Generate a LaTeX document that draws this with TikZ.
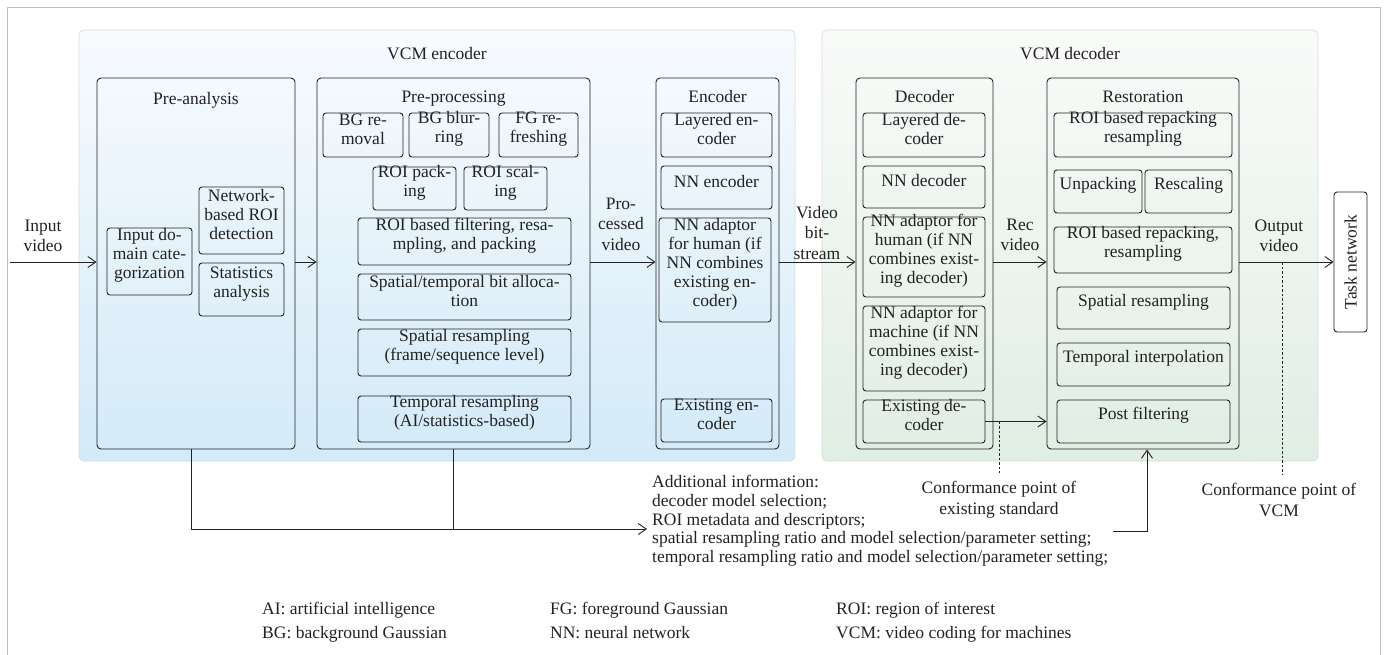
\documentclass[tikz,border=0pt]{standalone}
\usepackage{fontspec}
\setmainfont{Liberation Serif}
\usetikzlibrary{arrows.meta,fit,calc}

\definecolor{encTop}{HTML}{F8FBFE}
\definecolor{encBot}{HTML}{D3EAF8}
\definecolor{decTop}{HTML}{F9FBF9}
\definecolor{decBot}{HTML}{E0EEE4}
\definecolor{ink}{HTML}{222222}
\definecolor{framegray}{HTML}{BDBDBD}
\definecolor{panelline}{HTML}{DADADA}

\begin{document}
\begin{tikzpicture}[x=1pt,y=-1pt,
  font=\fontsize{17.5}{19}\selectfont,
  every node/.style={text=ink},
  box/.style={draw=ink, line width=0.9pt, rounded corners=3pt, inner sep=0pt, align=center},
  group/.style={draw=ink, line width=0.9pt, rounded corners=4pt, inner sep=0pt},
  panel/.style={draw=panelline, line width=0.7pt, rounded corners=5pt, inner sep=0pt},
  lbl/.style={inner sep=0pt, align=center, font=\fontsize{17.5}{20.5}\selectfont},
  arr/.style={draw=ink, line width=0.9pt, -{Straight Barb[length=8pt,width=11pt]}},
  link/.style={draw=ink, line width=0.9pt},
  cpline/.style={draw=ink, line width=0.8pt, dash pattern=on 2.5pt off 2pt},
]
\useasboundingbox (0,0) rectangle (1388,654);

% outer frame (open at the bottom edge)
\draw[framegray, line width=1pt] (7,670) -- (7,7) -- (1380,7) -- (1380,670);

% ---------------- VCM encoder ----------------
\node[panel, top color=encTop, bottom color=encBot, fit={(79,30) (795,461)}] (vcmenc) {};
\node[anchor=base] (vcmencT) at (437,59) {VCM encoder};

% Pre-analysis
\node[group, fit={(97,78) (295,449)}] (preana) {};
\node[anchor=base] (preanaT) at (196,104) {Pre-analysis};
\node[box, fit={(107,228) (192,295)}] (idc) {Input do-\\main cate-\\gorization};
\node[box, fit={(199,187) (284,254)}] (nroi) {Network-\\based ROI\\detection};
\node[box, fit={(199,263) (284,316)}] (stat) {Statistics\\analysis};

% Pre-processing
\node[group, fit={(317,78) (590,449)}] (preproc) {};
\node[anchor=base] (preprocT) at (453.5,102) {Pre-processing};
\node[box, fit={(323,113) (403,157)}] (bgrem) {BG re-\\moval};
\node[box, fit={(409,113) (489,157)}] (bgblur) {BG blur-\\ring};
\node[box, fit={(499,113) (578,157)}] (fgref) {FG re-\\freshing};
\node[box, fit={(373,167) (456,210)}] (roipack) {ROI pack-\\ing};
\node[box, fit={(464,167) (547,210)}] (roiscal) {ROI scal-\\ing};
\node[box, fit={(358,218) (571,265)}] (roifilt) {ROI based filtering, resa-\\mpling, and packing};
\node[box, fit={(358,274) (571,320)}] (stbit) {Spatial/temporal bit alloca-\\tion};
\node[box, fit={(358,329) (571,376)}] (spres) {Spatial resampling\\(frame/sequence level)};
\node[box, fit={(358,396) (571,442)}] (tmres) {Temporal resampling\\(AI/statistics-based)};

% Encoder
\node[group, fit={(656,78) (779,449)}] (enc) {};
\node[anchor=base] (encT) at (717.5,102) {Encoder};
\node[box, fit={(661,113) (772,157)}] (layenc) {Layered en-\\coder};
\node[box, fit={(661,166) (772,209)}] (nnenc) {NN encoder};
\node[box, fit={(659,218) (771,322)}] (nnadh) {NN adaptor\\for human (if\\NN combines\\existing en-\\coder)};
\node[box, fit={(661,399) (772,442)}] (exenc) {Existing en-\\coder};

% ---------------- VCM decoder ----------------
\node[panel, top color=decTop, bottom color=decBot, fit={(822,30) (1318,461)}] (vcmdec) {};
\node[anchor=base] (vcmdecT) at (1070,59) {VCM decoder};

% Decoder
\node[group, fit={(856,78) (993,449)}] (dec) {};
\node[anchor=base] (decT) at (924.5,102) {Decoder};
\node[box, fit={(863,113) (985,157)}] (laydec) {Layered de-\\coder};
\node[box, fit={(863,166) (985,208)}] (nndec) {NN decoder};
\node[box, fit={(863,217) (985,297)}] (nnadhd) {NN adaptor for\\human (if NN\\combines exist-\\ing decoder)};
\node[box, fit={(863,306) (985,391)}] (nnadm) {NN adaptor for\\machine (if NN\\combines exist-\\ing decoder)};
\node[box, fit={(863,400) (985,443)}] (exdec) {Existing de-\\coder};

% Restoration
\node[group, fit={(1047,78) (1239,449)}] (rest) {};
\node[anchor=base] (restT) at (1143,102) {Restoration};
\node[box, fit={(1054,113) (1232,157)}] (rrs) {ROI based repacking\\resampling};
\node[box, fit={(1054,170) (1142,213)}] (unpack) {Unpacking};
\node[box, fit={(1145,170) (1232,213)}] (rescale) {Rescaling};
\node[box, fit={(1054,227) (1232,273)}] (rrs2) {ROI based repacking,\\resampling};
\node[box, fit={(1057,287) (1230,329)}] (spres2) {Spatial resampling};
\node[box, fit={(1057,343) (1230,386)}] (tint) {Temporal interpolation};
\node[box, fit={(1057,400) (1230,443)}] (postf) {Post filtering};

% Task network
\node[box, rotate=90, minimum width=140pt, minimum height=33pt] (task) at (1350.5,262) {Task network};

% ---------------- main signal path ----------------
\coordinate (inp) at (10,262);
\coordinate (mid) at (0,262);
\node[lbl] (inlbl) at (43,236) {Input\\video};
\node[lbl] (proclbl) at (621,224) {Pro-\\cessed\\video};
\node[lbl] (bslbl) at (817,233) {Video\\bit-\\stream};
\node[lbl] (reclbl) at (1020,235) {Rec\\video};
\node[lbl] (outlbl) at (1279,236) {Output\\video};

\draw[arr] (inp) -- (preana.west |- mid);
\draw[arr] (preana.east |- mid) -- (preproc.west |- mid);
\draw[arr] (preproc.east |- mid) -- (enc.west |- mid);
\draw[arr] (enc.east |- mid) -- (dec.west |- mid);
\draw[arr] (dec.east |- mid) -- (rest.west |- mid);
\draw[arr] (rest.east |- mid) -- (task.north |- mid);
\draw[arr] (exdec.east) -- (rest.west |- exdec.east);

% conformance points
\coordinate (cp1a) at (999,421.5);
\coordinate (cp1b) at (999,473);
\draw[cpline] (cp1a) -- (cp1b);
\node[lbl, anchor=north] (cp1) at (999,481) {Conformance point of\\existing standard};
\coordinate (cp2a) at (1282,262);
\coordinate (cp2b) at (1282,475);
\draw[cpline] (cp2a) -- (cp2b);
\node[lbl, anchor=north] (cp2) at (1279,483) {Conformance point of\\VCM};

% side information path
\coordinate (lx) at (191,0);
\coordinate (addtip) at (647,529);
\draw[arr] (preana.south -| lx) |- (addtip);
\draw[link] (preproc.south) -- (preproc.south |- addtip);
\node[anchor=north west, align=left, inner sep=0pt, font=\fontsize{17.5}{18.75}\selectfont] (addinfo) at (652,475)
  {Additional information:\\decoder model selection;\\ROI metadata and descriptors;\\spatial resampling ratio and model selection/parameter setting;\\temporal resampling ratio and model selection/parameter setting;};
\coordinate (fd) at (1113,531);
\draw[arr] (fd) -| ([xshift=4pt]rest.south);

% abbreviations
\node[anchor=base west, inner sep=0pt] (lgai) at (262,614) {AI: artificial intelligence};
\node[anchor=base west, inner sep=0pt] (lgbg) at (262,638) {BG: background Gaussian};
\node[anchor=base west, inner sep=0pt] (lgfg) at (550,614) {FG: foreground Gaussian};
\node[anchor=base west, inner sep=0pt] (lgnn) at (550,638) {NN: neural network};
\node[anchor=base west, inner sep=0pt] (lgroi) at (836,614) {ROI: region of interest};
\node[anchor=base west, inner sep=0pt] (lgvcm) at (836,638) {VCM: video coding for machines};
\end{tikzpicture}
\end{document}
